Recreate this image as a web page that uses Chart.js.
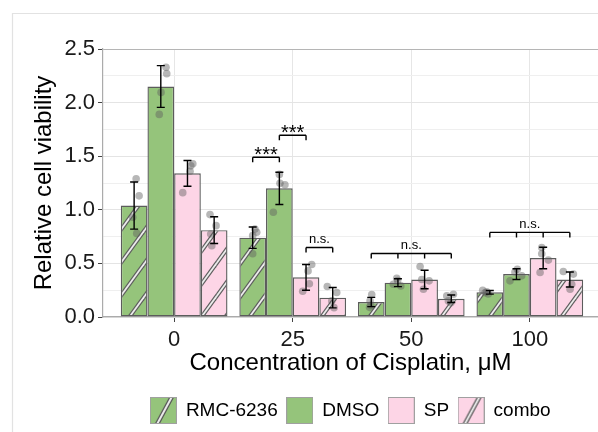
<!DOCTYPE html>
<html><head><meta charset="utf-8">
<script src="https://cdn.jsdelivr.net/npm/chart.js@4.4.1/dist/chart.umd.min.js"></script>
<style>html,body{margin:0;padding:0;background:#fff;overflow:hidden}</style>
</head><body>
<canvas id="c" width="598" height="432" style="display:block;width:598px;height:432px"></canvas>
<script>
// ---------- data ----------
const categories = ['0', '25', '50', '100'];
const seriesNames = ['RMC-6236', 'DMSO', 'SP', 'combo'];

const meanRMC   = [1.04, 0.74, 0.14, 0.23];
const meanDMSO  = [2.15, 1.20, 0.32, 0.40];
const meanSP    = [1.34, 0.37, 0.35, 0.55];
const meanCombo = [0.81, 0.18, 0.17, 0.35];

const sdRMC   = [0.22, 0.10, 0.043, 0.017];
const sdDMSO  = [0.195, 0.15, 0.037, 0.05];
const sdSP    = [0.12, 0.12, 0.086, 0.10];
const sdCombo = [0.125, 0.095, 0.035, 0.07];

// replicate points per concentration
const ptsRMC   = [[1.29, 1.13, 0.93, 0.78], [0.82, 0.79, 0.76, 0.59], [0.21, 0.15, 0.11, 0.09], [0.25, 0.236, 0.226, 0.214]];
const ptsDMSO  = [[2.33, 2.27, 2.095, 1.89], [1.33, 1.233, 1.248, 0.977], [0.362, 0.306, 0.29, 0.34], [0.446, 0.337, 0.384, 0.42]];
const ptsSP    = [[1.43, 1.41, 1.36, 1.16], [0.49, 0.43, 0.31, 0.24], [0.471, 0.337, 0.259, 0.35], [0.649, 0.59, 0.531, 0.415]];
const ptsCombo = [[0.955, 0.852, 0.774, 0.665], [0.284, 0.228, 0.15, 0.087], [0.212, 0.197, 0.134, 0.15], [0.424, 0.40, 0.306, 0.259]];

// horizontal jitter of the replicate points (x data units)
const jitRMC   = [[0.017, 0.042, -0.012, 0.022], [0.019, 0.034, 0.000, 0.000], [0.004, -0.010, -0.004, -0.014], [-0.060, -0.026, -0.040, -0.013]];
const jitDMSO  = [[0.044, 0.050, 0.002, -0.013], [0.000, 0.047, 0.005, -0.051], [-0.010, -0.039, 0.024, -0.002], [0.007, -0.055, 0.044, -0.013]];
const jitSP    = [[0.045, 0.028, 0.022, -0.040], [0.048, 0.017, 0.028, -0.028], [-0.038, 0.038, -0.010, -0.024], [-0.012, -0.012, 0.044, -0.026]];
const jitCombo = [[-0.035, 0.016, -0.029, -0.020], [-0.046, 0.034, -0.008, 0.011], [0.018, -0.038, -0.004, -0.024], [-0.055, 0.030, 0.016, 0.002]];

// significance brackets: group index, series spanned, bracket height, label
const sigGroup  = [1, 1, 1, 2, 3];
const sigSeries = [[0, 1], [1, 2], [2, 3], [0, 1, 2, 3], [0, 1, 2, 3]];
const sigY      = [1.49, 1.695, 0.649, 0.593, 0.789];
const sigLabel  = ['***', '***', 'n.s.', 'n.s.', 'n.s.'];

const yTicksMajor = [0, 0.5, 1.0, 1.5, 2.0, 2.5];

// ---------- styling ----------
const FONT = "'Liberation Sans', Arial, Helvetica, sans-serif";
Chart.defaults.font.family = FONT;
const GREEN = '#95c47b';
const PINK = '#fdd5e6';
const BAR_BORDER = '#5c5c5c';

const means = [meanRMC, meanDMSO, meanSP, meanCombo];
const sds = [sdRMC, sdDMSO, sdSP, sdCombo];
const pts = [ptsRMC, ptsDMSO, ptsSP, ptsCombo];
const jits = [jitRMC, jitDMSO, jitSP, jitCombo];
const baseColors = [GREEN, GREEN, PINK, PINK];
const hatched = [true, false, false, true];

const cvs = document.getElementById('c');
const mainCtx = cvs.getContext('2d');

function makeHatch(base) {
  const W = 24, H = 33;
  const c = document.createElement('canvas'); c.width = W; c.height = H;
  const g = c.getContext('2d');
  g.fillStyle = base; g.fillRect(0, 0, W, H);
  for (const [lw, col] of [[4.2, '#5e5e5e'], [1.8, '#ececec']]) {
    g.strokeStyle = col; g.lineWidth = lw;
    for (const dx of [-W, 0, W]) {
      g.beginPath(); g.moveTo(dx - W, 2 * H); g.lineTo(dx + 2 * W, -H); g.stroke();
    }
  }
  return mainCtx.createPattern(c, 'repeat');
}

function makeIcon(color, hatch) {
  const c = document.createElement('canvas'); c.width = 27; c.height = 27;
  const g = c.getContext('2d');
  g.fillStyle = color; g.fillRect(0.5, 0.5, 26, 26);
  if (hatch) {
    g.save(); g.beginPath(); g.rect(1, 1, 25, 25); g.clip();
    for (const [lw, col] of [[4.5, '#555'], [2, '#eeeeee']]) {
      g.strokeStyle = col; g.lineWidth = lw;
      g.beginPath(); g.moveTo(7.2, 27); g.lineTo(21.8, 0); g.stroke();
    }
    g.restore();
  }
  g.strokeStyle = '#a0a0a0'; g.lineWidth = 1; g.strokeRect(0.5, 0.5, 26, 26);
  return c;
}

const fills = baseColors.map((c, i) => hatched[i] ? makeHatch(c) : c);
const legendIcons = baseColors.map((c, i) => makeIcon(c, hatched[i]));
const isMajor = v => yTicksMajor.some(t => Math.abs(t - v) < 1e-6);

const barDatasets = seriesNames.map((name, s) => ({
  type: 'bar', label: name,
  data: categories.map((_, i) => ({ x: i, y: means[s][i] })),
  backgroundColor: fills[s], borderColor: BAR_BORDER, borderWidth: 1.4, borderSkipped: false,
  categoryPercentage: 0.9, barPercentage: 1.0, order: 1
}));

const nSeries = seriesNames.length;
const dodge = 0.9 / nSeries;
const pointData = [];
pts.forEach((ser, s) => ser.forEach((grp, g) => grp.forEach((v, k) => {
  pointData.push({ x: g + (s - (nSeries - 1) / 2) * dodge + jits[s][g][k], y: v });
})));

const pointDataset = {
  type: 'scatter', label: 'points', data: pointData,
  pointRadius: 3.8, pointHoverRadius: 3.8, pointBackgroundColor: 'rgba(95,95,95,0.45)', pointBorderWidth: 0, order: 0
};

const framePlugin = {
  id: 'frame',
  beforeDraw(chart) {
    const { ctx } = chart;
    ctx.save();
    ctx.strokeStyle = '#e2e2e2'; ctx.lineWidth = 1.2;
    ctx.beginPath(); ctx.moveTo(12.5, 440); ctx.lineTo(12.5, 13.5); ctx.lineTo(610, 13.5); ctx.stroke();
    ctx.restore();
  }
};

const annotPlugin = {
  id: 'annot',
  afterDatasetsDraw(chart) {
    const { ctx } = chart;
    const ys = chart.scales.y;
    ctx.save();
    ctx.strokeStyle = '#000'; ctx.lineWidth = 1.4;
    // error bars (mean ± SD)
    for (let s = 0; s < nSeries; s++) {
      const meta = chart.getDatasetMeta(s);
      meta.data.forEach((bar, g) => {
        const top = ys.getPixelForValue(means[s][g] + sds[s][g]);
        const bot = ys.getPixelForValue(means[s][g] - sds[s][g]);
        const x = bar.x, cw = 4;
        ctx.beginPath();
        ctx.moveTo(x, top); ctx.lineTo(x, bot);
        ctx.moveTo(x - cw, top); ctx.lineTo(x + cw, top);
        ctx.moveTo(x - cw, bot); ctx.lineTo(x + cw, bot);
        ctx.stroke();
      });
    }
    // significance brackets
    ctx.fillStyle = '#000';
    ctx.textAlign = 'center';
    ctx.textBaseline = 'alphabetic';
    sigGroup.forEach((g, b) => {
      const xs = sigSeries[b].map(s => chart.getDatasetMeta(s).data[g].x);
      const y = ys.getPixelForValue(sigY[b]);
      ctx.beginPath();
      ctx.moveTo(xs[0], y); ctx.lineTo(xs[xs.length - 1], y);
      xs.forEach(x => { ctx.moveTo(x, y); ctx.lineTo(x, y + 5); });
      ctx.stroke();
      const cx = (xs[0] + xs[xs.length - 1]) / 2;
      if (sigLabel[b] === '***') {
        ctx.font = '20px ' + FONT;
        ctx.fillText(sigLabel[b], cx, y + 4);
      } else {
        ctx.font = '13px ' + FONT;
        ctx.fillText(sigLabel[b], cx, y - 4.5);
      }
    });
    ctx.restore();
  }
};

new Chart(cvs, {
  type: 'bar',
  data: { datasets: [...barDatasets, pointDataset] },
  plugins: [framePlugin, annotPlugin],
  options: {
    responsive: false, animation: false, devicePixelRatio: 1, events: [],
    layout: { autoPadding: false, padding: { top: 49, left: 30, right: 0, bottom: 2 } },
    scales: {
      x: {
        type: 'linear', offset: false, min: -0.6, max: 3.575,
        afterBuildTicks: s => { s.ticks = categories.map((_, i) => ({ value: i })); },
        afterFit: s => { s.height = 75; s.paddingRight = 0; s.paddingLeft = 0; },
        ticks: { autoSkip: false, maxRotation: 0, padding: 5, callback: v => categories[Math.round(v)], font: { size: 22 }, color: '#1a1a1a' },
        grid: { color: '#e6e6e6', lineWidth: 1, tickLength: 5, tickColor: '#444', offset: false },
        border: { color: '#ababab', width: 1.2 },
        title: { display: true, text: 'Concentration of Cisplatin, μM', font: { size: 24 }, color: '#000', padding: { top: 0, bottom: 14 } }
      },
      y: {
        min: 0, max: 2.5,
        afterFit: s => { s.width = 73; },
        ticks: { stepSize: 0.25, autoSkip: false, padding: 3, callback: v => isMajor(v) ? v.toFixed(1) : '', font: { size: 22 }, color: '#1a1a1a' },
        grid: {
          lineWidth: 1, tickLength: 5,
          color: c => {
            const v = c.tick ? c.tick.value : 0;
            if (Math.abs(v - 2.5) < 1e-6) return '#b5b5b5';
            return isMajor(v) ? '#e4e4e4' : '#efefef';
          },
          tickColor: c => (c.tick && isMajor(c.tick.value)) ? '#444' : 'rgba(0,0,0,0)'
        },
        border: { color: '#ababab', width: 1.2 },
        title: { display: true, text: 'Relative cell viability', font: { size: 24 }, color: '#000', padding: { top: 0, bottom: 0 } }
      }
    },
    plugins: {
      tooltip: { enabled: false },
      legend: {
        position: 'bottom', fullSize: false, align: 'center',
        labels: {
          usePointStyle: true, pointStyleWidth: 26, font: { size: 19 }, color: '#000', padding: 9,
          generateLabels: () => seriesNames.map((n, i) => ({
            text: n, pointStyle: legendIcons[i], fillStyle: 'rgba(0,0,0,0)',
            strokeStyle: 'rgba(0,0,0,0)', lineWidth: 0, hidden: false, datasetIndex: i, fontColor: '#000'
          }))
        }
      }
    }
  }
});
</script>
</body></html>
